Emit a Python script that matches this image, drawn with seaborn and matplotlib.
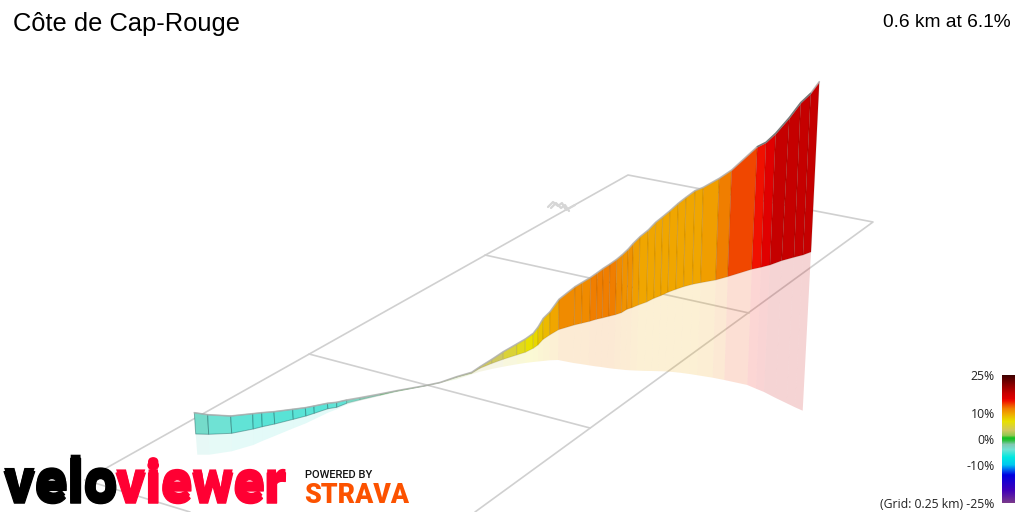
import numpy as np
import matplotlib
matplotlib.use('Agg')
import matplotlib.pyplot as plt
import matplotlib.patheffects as pe
from matplotlib.cm import ScalarMappable
from matplotlib.colors import LinearSegmentedColormap, Normalize
import seaborn as sns

# Ridge of the climb, one point per station
top_x = [194.3, 207.7, 230.7, 252.7, 261.7, 274, 292.7, 305.3, 314, 327.3, 336.7, 346.7, 360, 380,
         396.7, 425, 440, 456.7, 471.7, 480, 491.7, 503.3, 516.7, 525.3, 533.3, 538.3, 543.3, 550,
         559, 575, 582.3, 590.7, 597.3, 603.3, 610, 616.7, 622.7, 628.3, 633.3, 640, 648.3, 655.7,
         662.7, 670, 678.3, 686, 695, 703.3, 719.3, 731.7, 757.3, 766, 775.7, 789.3, 800.7, 810.7, 819.3]
top_y = [412.7, 414.7, 416, 413.7, 412.7, 411.7, 409.3, 407.7, 406, 403.3, 402.3, 400, 397.7, 394,
         390.7, 385.7, 382.5, 376.7, 372.3, 366.7, 359.4, 351.7, 344, 339, 333.3, 326.7, 318.3, 311.7,
         299.3, 286.7, 282.3, 277.3, 272.7, 268.3, 264, 259.3, 254.3, 249, 243.3, 236.7, 230, 222.3,
         216.7, 210.7, 203.3, 197.3, 190.7, 187.3, 178.3, 170, 146.7, 142.3, 133.3, 117.7, 102.7, 93.3, 81.7]

# Foot of the coloured wall
wall_x = [195.7, 208.7, 231.7, 253.3, 262.3, 274.7, 293.3, 306, 314.3, 328, 336.7, 346.7, 360, 380,
          396.7, 425, 440, 456.7, 471.7, 480, 491.7, 503.3, 516.7, 525.3, 533.3, 538, 543, 549.7,
          558.6, 574.3, 581.5, 589.8, 596.4, 602.3, 609, 615.5, 621.5, 627, 632, 638.5, 646.7, 654,
          660.8, 668, 676, 683.6, 692.5, 700.7, 715.7, 727.7, 751.7, 761, 770, 781.7, 794, 803, 811]
wall_y = [434, 434.3, 433.3, 429, 426.7, 424, 419.3, 416, 413.3, 408.7, 407.3, 403.3, 400, 395.3,
          391.3, 386, 382.8, 377.3, 373.3, 368.3, 363.5, 359.3, 355, 352.3, 348.3, 345, 339.5, 335,
          329.7, 325, 323.3, 321.3, 319.3, 318, 316.3, 314.7, 312.7, 309.3, 307.7, 305, 302, 298.3,
          295.7, 292.3, 289.3, 286.7, 284.3, 282.7, 280, 276.7, 269.3, 267.3, 265, 260.7, 257.3, 255, 252]

# Foot of the pale curtain below the wall
shade_x = [197.3, 209.3, 231.7, 253.3, 262.3, 274.7, 293.3, 306, 314.3, 328, 336.7, 346.7, 360, 380,
           396.7, 425, 440, 456.7, 471.7, 480, 491.7, 503.3, 516.7, 525.3, 533.3, 538, 543, 549.5,
           558, 573.5, 580.5, 588.7, 595.2, 601, 607.5, 614, 620, 625.3, 630, 636.5, 644.5, 651.7,
           658.3, 665.3, 673, 680.5, 689.5, 697, 712.7, 724.3, 747.3, 756, 764, 775.7, 786.7, 795, 802.7]
shade_y = [454.7, 454.7, 451.3, 445, 441, 436, 428.3, 423.3, 419.3, 412.7, 409.3, 404.7, 400.7, 396,
           392, 386.2, 383, 379.3, 374.3, 371.7, 369, 366.7, 364.3, 363, 362, 361.5, 361, 360.3,
           360, 363, 364, 365.3, 366.3, 367, 368, 368.8, 369.4, 370, 370.3, 370.6, 370.9, 371,
           371.2, 371.4, 372, 372.8, 374, 375.2, 377.7, 380, 385, 388.7, 392, 398, 403.3, 407.3, 410.7]

# Gradient (%) of each segment between two stations
grades = [-3.4, -4, -4.4, -4.6, -4.6, -4.5, -4.5, -4.5, -4.5, -4.3, -4.3, -3, -2, -1,
          0, 1, 1.5, 2, 3, 3.5, 3.5, 5, 6, 7, 7.5, 8.5, 9, 10,
          11.5, 11.5, 11.5, 12, 12, 12, 12, 11.5, 11, 11, 10.5, 10, 10, 10,
          10, 10, 10, 10, 10, 10.5, 12, 13.5, 15, 16, 18, 18, 18, 18]

# Ground grid
grid_lines = [
    ([85, 628, 873, 475], [480, 175, 222, 512]),
    ([85, 190], [480, 512]),
    ([485, 749], [255, 313]),
    ([309, 590], [354, 428]),
]
north_lines = [
    ([548, 553, 558, 562, 566, 575], [207, 202, 206, 203, 210, 205]),
    ([551, 556, 561, 565, 569], [208, 203, 208, 205, 211]),
]

# Colour bar
scale_stops = [-25, -20, -14, -12, -10, -7, -4, -2, -0.5, 0.5, 1.5, 3.5, 7, 8, 10, 12, 13.5, 15, 16, 18, 21, 25]
scale_colors = ['#7b3a8a', '#4000b8', '#0000e0', '#0060f0', '#00c8f0', '#00e8e0', '#70e2d4', '#80c8b0',
                '#30c040', '#10c020', '#90c850', '#d0c860', '#e8e000', '#e8d000', '#f0a800', '#f08000',
                '#f04c00', '#f01000', '#e00000', '#c80000', '#900000', '#400000']
scale_ticks = [25, 10, 0, -10, -25]
scale_labels = ['25%', '10%', '0%', '-10%', '(Grid: 0.25 km) -25%']

sns.set_theme(style='white')
plt.rcParams['font.family'] = ['Liberation Sans', 'DejaVu Sans']

W, H = 1024, 512
fig = plt.figure(figsize=(W / 100, H / 100), dpi=100)
ax = fig.add_axes([0, 0, 1, 1])
ax.set_xlim(0, W)
ax.set_ylim(H, 0)
ax.axis('off')

cmap = LinearSegmentedColormap.from_list(
    'grade', [((s + 25) / 50, c) for s, c in zip(scale_stops, scale_colors)], N=256)
norm = Normalize(-25, 25)

for xs, ys in grid_lines:
    sns.lineplot(x=xs, y=ys, ax=ax, color='#d0d0d0', lw=1.2, sort=False, estimator=None, zorder=1)
for xs, ys in north_lines:
    sns.lineplot(x=xs, y=ys, ax=ax, color='#d6d6d6', lw=1.6, sort=False, estimator=None, zorder=1)

for i, grade in enumerate(grades):
    colour = cmap(norm(grade))
    # teal side shows its edges more strongly than the warm side
    edge = (0.05, 0.3, 0.3, 0.4) if grade < -3.2 else (0.2, 0.1, 0.0, 0.12)
    # pale curtain first so the wall sits on top of it
    ax.fill([wall_x[i], wall_x[i + 1], shade_x[i + 1], shade_x[i]],
            [wall_y[i], wall_y[i + 1], shade_y[i + 1], shade_y[i]],
            facecolor=colour, edgecolor='none', alpha=0.17, zorder=2)
    ax.fill([top_x[i], top_x[i + 1], wall_x[i + 1], wall_x[i]],
            [top_y[i], top_y[i + 1], wall_y[i + 1], wall_y[i]],
            facecolor=colour, edgecolor=edge, lw=0.7, zorder=3)

sns.lineplot(x=top_x, y=top_y, ax=ax, color='#b2b2b2', lw=1.2, alpha=0.8, sort=False, estimator=None, zorder=4)
sns.lineplot(x=top_x[-7:-1], y=top_y[-7:-1], ax=ax, color='#777777', lw=1.0, sort=False, estimator=None, zorder=5)

ax.text(13, 31, 'Côte de Cap-Rouge', fontsize=18.4, color='black', zorder=6)
ax.text(1011, 27, '0.6 km at 6.1%', fontsize=13.8, color='black', ha='right', zorder=6)

# Logos: text box sits a bit higher and the glyphs are pushed down, the box would leave the figure otherwise
shift = (0, -2.6)
ax.text(4, 499.5, 'velo', fontsize=43, family='Roboto', weight='black', color='black',
        path_effects=[pe.Stroke(linewidth=0.9, foreground='black', offset=shift), pe.Normal(offset=shift)], zorder=6)
ax.text(116, 499.5, 'viewer', fontsize=41, family='Roboto', weight='black', color='#ff0033',
        path_effects=[pe.Stroke(linewidth=0.9, foreground='#ff0033', offset=shift), pe.Normal(offset=shift)], zorder=6)
ax.text(305, 478, 'POWERED BY', fontsize=8, family='Roboto', weight='medium', color='#111111', zorder=6)
ax.text(304, 503, 'STRAVA', fontsize=19.2, family='Roboto', weight='black', color='#fc5200', zorder=6)

# Colour bar on the lower right
cax = fig.add_axes([1001.7 / W, 1 - 503 / H, 13.3 / W, 128 / H])
bar = fig.colorbar(ScalarMappable(norm=norm, cmap=cmap), cax=cax)
bar.outline.set_visible(False)
bar.set_ticks(scale_ticks)
bar.set_ticklabels(scale_labels)
cax.yaxis.set_ticks_position('left')
cax.tick_params(axis='y', length=0, pad=5, labelsize=8.8, labelcolor='#222222')
for label in cax.get_yticklabels():
    label.set_family('Open Sans')

plt.savefig('out.png', dpi=100)
